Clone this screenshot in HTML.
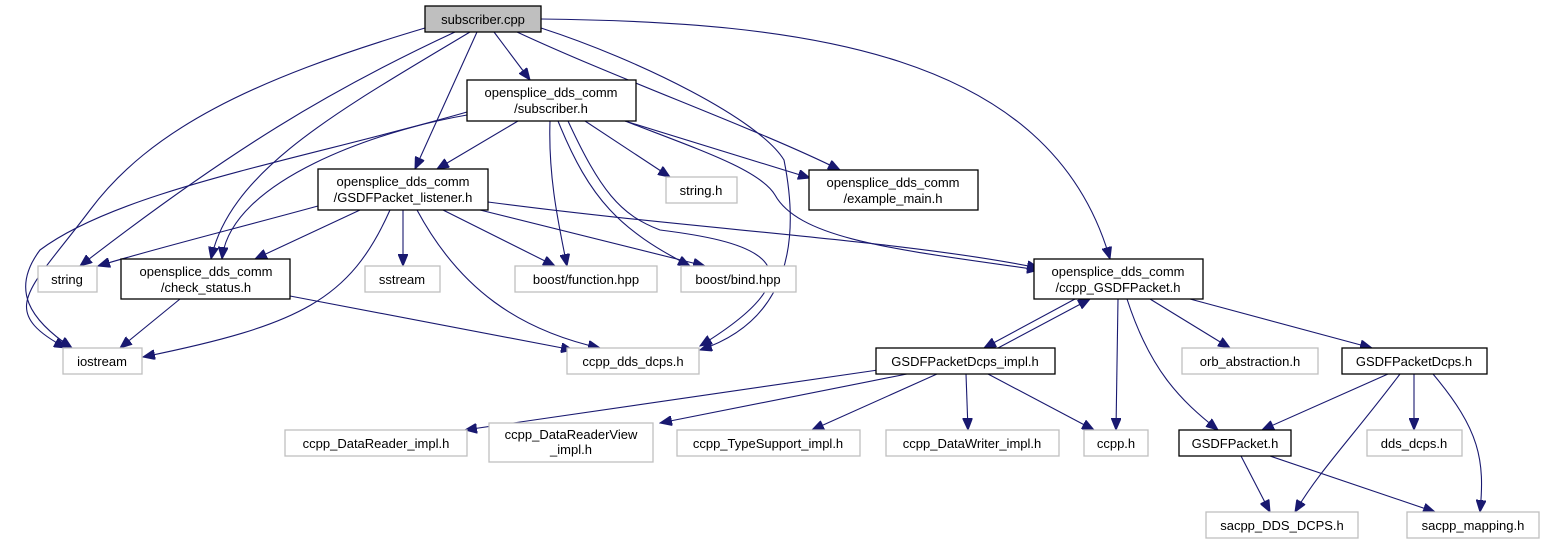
<!DOCTYPE html>
<html><head><meta charset="utf-8"><style>
html,body{margin:0;padding:0;background:#fff;}
svg{display:block;}
text{font-family:"Liberation Sans","DejaVu Sans",sans-serif;font-size:13px;fill:#000;text-anchor:middle;}
.e{fill:none;stroke:#191970;stroke-width:1.1;marker-end:url(#a);}
.b{fill:#fff;stroke:#000;stroke-width:1.3;}
.g{fill:#fff;stroke:#bfbfbf;stroke-width:1.3;}
</style></head><body>
<svg width="1545" height="544" viewBox="0 0 1545 544" xmlns="http://www.w3.org/2000/svg">
<defs><marker id="a" markerUnits="userSpaceOnUse" markerWidth="13" markerHeight="10" refX="12" refY="5" orient="auto"><path d="M0,0 L12,5 L0,10 z" fill="#191970" stroke="#191970"/></marker></defs>
<path class="e" d="M425,28 C250,80 150,130 90,210 C30,290 -5,310 66,348"/>
<path class="e" d="M455,32 C330,90 230,150 80,266"/>
<path class="e" d="M470,32 C340,110 230,170 211,259"/>
<path class="e" d="M477,32 L415,169"/>
<path class="e" d="M494,32 L530,80"/>
<path class="e" d="M517,32 C620,80 760,130 840,170"/>
<path class="e" d="M541,28 C640,60 760,120 784,160 C800,240 790,320 700,350"/>
<path class="e" d="M541,19 C800,22 1050,50 1110,259"/>
<path class="e" d="M467,112 C300,160 120,190 40,250 C10,290 30,320 72,348"/>
<path class="e" d="M467,115 C380,130 230,180 222,259"/>
<path class="e" d="M518,121 L437,169"/>
<path class="e" d="M550,121 C548,180 560,230 567,266"/>
<path class="e" d="M558,121 C590,200 620,230 690,266"/>
<path class="e" d="M585,121 L670,177"/>
<path class="e" d="M625,121 L810,178"/>
<path class="e" d="M625,121 C700,150 760,170 775,195 C800,240 900,250 1039,270"/>
<path class="e" d="M568,121 C600,190 620,215 660,230 C740,240 840,260 700,346"/>
<path class="e" d="M318,206 C230,230 150,250 98,266"/>
<path class="e" d="M360,210 L255,259"/>
<path class="e" d="M390,210 C350,300 300,325 143,357"/>
<path class="e" d="M403,210 L403,266"/>
<path class="e" d="M417,210 C460,290 520,330 600,348"/>
<path class="e" d="M443,210 L555,266"/>
<path class="e" d="M480,210 L705,266"/>
<path class="e" d="M488,202 C700,230 900,240 1039,268"/>
<path class="e" d="M180,299 L120,348"/>
<path class="e" d="M290,296 L573,350"/>
<path class="e" d="M1075,299 L984,348"/>
<path class="e" d="M998,348 L1090,299"/>
<path class="e" d="M1118,299 L1116,430"/>
<path class="e" d="M1127,299 C1150,370 1180,400 1218,430"/>
<path class="e" d="M1150,299 L1230,348"/>
<path class="e" d="M1190,299 L1372,348"/>
<path class="e" d="M878,370 L465,430"/>
<path class="e" d="M907,374 L660,423"/>
<path class="e" d="M937,374 L812,430"/>
<path class="e" d="M966,374 L968,430"/>
<path class="e" d="M988,374 L1094,430"/>
<path class="e" d="M1388,374 L1262,430"/>
<path class="e" d="M1400,374 C1350,440 1320,470 1295,512"/>
<path class="e" d="M1414,374 L1414,430"/>
<path class="e" d="M1433,374 C1480,430 1485,460 1480,512"/>
<path class="e" d="M1241,456 L1270,512"/>
<path class="e" d="M1270,456 L1435,512"/>
<rect x="425" y="6" width="116" height="26" fill="#bfbfbf" stroke="#000" stroke-width="1.3"/><text x="483" y="24">subscriber.cpp</text>
<rect class="b" x="467" y="80" width="169" height="41"/><text x="551" y="97">opensplice_dds_comm</text><text x="551" y="113">/subscriber.h</text>
<rect class="b" x="318" y="169" width="170" height="41"/><text x="403" y="186">opensplice_dds_comm</text><text x="403" y="202">/GSDFPacket_listener.h</text>
<rect class="g" x="666" y="177" width="71" height="26"/><text x="701" y="195">string.h</text>
<rect class="b" x="809" y="170" width="169" height="40"/><text x="893" y="187">opensplice_dds_comm</text><text x="893" y="203">/example_main.h</text>
<rect class="b" x="121" y="259" width="169" height="40"/><text x="206" y="276">opensplice_dds_comm</text><text x="206" y="292">/check_status.h</text>
<rect class="g" x="38" y="266" width="59" height="26"/><text x="67" y="284">string</text>
<rect class="g" x="365" y="266" width="75" height="26"/><text x="402" y="284">sstream</text>
<rect class="g" x="515" y="266" width="142" height="26"/><text x="586" y="284">boost/function.hpp</text>
<rect class="g" x="681" y="266" width="115" height="26"/><text x="738" y="284">boost/bind.hpp</text>
<rect class="b" x="1034" y="259" width="169" height="40"/><text x="1118" y="276">opensplice_dds_comm</text><text x="1118" y="292">/ccpp_GSDFPacket.h</text>
<rect class="g" x="63" y="348" width="79" height="26"/><text x="102" y="366">iostream</text>
<rect class="g" x="567" y="348" width="132" height="26"/><text x="633" y="366">ccpp_dds_dcps.h</text>
<rect class="b" x="876" y="348" width="179" height="26"/><text x="965" y="366">GSDFPacketDcps_impl.h</text>
<rect class="g" x="1182" y="348" width="136" height="26"/><text x="1250" y="366">orb_abstraction.h</text>
<rect class="b" x="1342" y="348" width="145" height="26"/><text x="1414" y="366">GSDFPacketDcps.h</text>
<rect class="g" x="285" y="430" width="182" height="26"/><text x="376" y="448">ccpp_DataReader_impl.h</text>
<rect class="g" x="489" y="423" width="164" height="39"/><text x="571" y="439">ccpp_DataReaderView</text><text x="571" y="454">_impl.h</text>
<rect class="g" x="677" y="430" width="183" height="26"/><text x="768" y="448">ccpp_TypeSupport_impl.h</text>
<rect class="g" x="886" y="430" width="173" height="26"/><text x="972" y="448">ccpp_DataWriter_impl.h</text>
<rect class="g" x="1084" y="430" width="64" height="26"/><text x="1116" y="448">ccpp.h</text>
<rect class="b" x="1179" y="430" width="112" height="26"/><text x="1235" y="448">GSDFPacket.h</text>
<rect class="g" x="1367" y="430" width="95" height="26"/><text x="1414" y="448">dds_dcps.h</text>
<rect class="g" x="1206" y="512" width="152" height="26"/><text x="1282" y="530">sacpp_DDS_DCPS.h</text>
<rect class="g" x="1407" y="512" width="132" height="26"/><text x="1473" y="530">sacpp_mapping.h</text>
</svg>
</body></html>
